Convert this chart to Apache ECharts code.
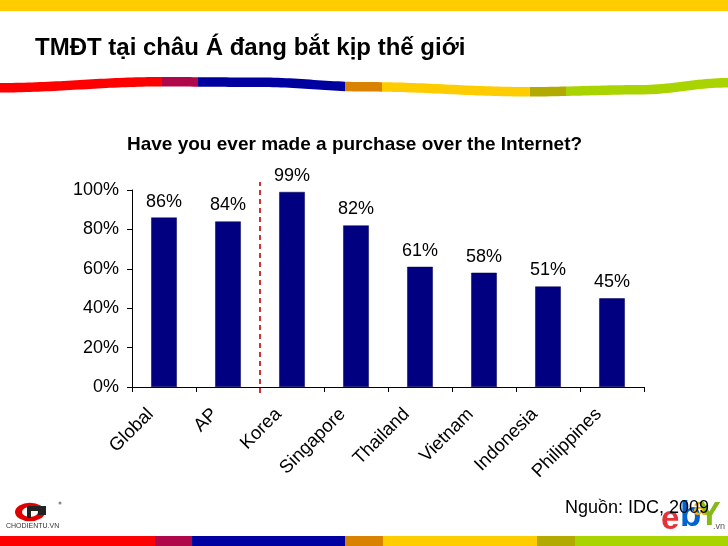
<!DOCTYPE html>
<html><head><meta charset="utf-8">
<script src="https://cdn.jsdelivr.net/npm/echarts@6/dist/echarts.min.js"></script>
<style>html,body{margin:0;padding:0;background:#fff}#c{width:728px;height:546px}</style>
</head><body><div id="c"></div>
<script>
const categories = ['Global','AP','Korea','Singapore','Thailand','Vietnam','Indonesia','Philippines'];
const values = [86, 84, 99, 82, 61, 58, 51, 45];
const yTicks = [0, 20, 40, 60, 80, 100];
const dividerAt = 2; // boundary between AP and Korea (category index units)
const dividerRange = [-3, 104];

const F = '"Liberation Sans", Arial, sans-serif';
const stripeColors = ['#FF0000','#B0064A','#0000A0','#D98200','#FFCC00','#B2AA00','#AAD400'];
const topBounds = [0,162,198,345,382,530,566,728];
const botBounds = [0,155,192,345,383,537,575,728];

function waveTop(x){
  const pts=[[0,83],[160,77],[260,77.5],[364,82],[530,87],[640,85],[728,78]];
  for(let i=0;i<pts.length-1;i++){
    const [x0,y0]=pts[i],[x1,y1]=pts[i+1];
    if(x>=x0&&x<=x1){const t=(x-x0)/(x1-x0);const s=(1-Math.cos(Math.PI*t))/2;return y0+(y1-y0)*s;}
  }
  return 80;
}
const graphics=[];
graphics.push({type:'rect',shape:{x:0,y:0,width:728,height:11},style:{fill:'#FFCC00'},silent:true});
for(let i=0;i<7;i++){
  const a=topBounds[i],b=topBounds[i+1];const pts=[];
  for(let x=a;x<=b;x+=4){pts.push([x,waveTop(x)]);}
  pts.push([b,waveTop(b)]);
  const th=9.5;
  for(let x=b;x>=a;x-=4){pts.push([x,waveTop(x)+th]);}
  pts.push([a,waveTop(a)+th]);
  graphics.push({type:'polygon',shape:{points:pts},style:{fill:stripeColors[i]},silent:true});
  graphics.push({type:'rect',shape:{x:botBounds[i],y:536,width:botBounds[i+1]-botBounds[i],height:10},style:{fill:stripeColors[i]},silent:true});
}
// chodientu logo (approximation)
graphics.push({type:'ring',shape:{cx:30,cy:512,r:15,r0:8},style:{fill:'#E00000'},scaleY:0.62,originY:512,silent:true});
graphics.push({type:'polygon',shape:{points:[[27,506],[46,506],[46,515],[38,515],[38,511],[31,511],[31,518],[27,518]]},style:{fill:'#222'},silent:true});
graphics.push({type:'circle',shape:{cx:60,cy:503,r:1.5},style:{fill:'#888'},silent:true});
graphics.push({type:'text',style:{text:'CHODIENTU.VN',x:6,y:523,font:'7px '+F,fill:'#333'},silent:true});
// ebay logo (approximation)
graphics.push({type:'text',style:{text:'e',x:661,y:503,font:'bold 33px '+F,fill:'#E53238'},silent:true});
graphics.push({type:'text',style:{text:'b',x:680,y:499,font:'bold 35px '+F,fill:'#0064D2'},silent:true});
graphics.push({type:'text',style:{text:'a',x:693,y:496,font:'bold 24px '+F,fill:'#F5AF02'},silent:true});
graphics.push({type:'text',style:{text:'Y',x:698,y:499,font:'bold 34px '+F,fill:'#86B817'},silent:true});
graphics.push({type:'text',style:{text:'.vn',x:713,y:522,font:'9px '+F,fill:'#555'},silent:true});

const chart = echarts.init(document.getElementById('c'));
chart.setOption({
  animation:false,
  backgroundColor:'#fff',
  title:[
    {text:'TMĐT tại châu Á đang bắt kịp thế giới',left:30,top:31,textStyle:{fontFamily:F,fontSize:24,fontWeight:'bold',color:'#000'}},
    {text:'Have you ever made a purchase over the Internet?',left:122,top:130,textStyle:{fontFamily:F,fontSize:19,fontWeight:'bold',color:'#000'}},
    {text:'Nguồn: IDC, 2009',right:14,top:494,textStyle:{fontFamily:F,fontSize:18,fontWeight:'normal',color:'#000'}}
  ],
  graphic:graphics,
  grid:{left:132,top:190,width:512,height:197,containLabel:false},
  xAxis:[
    {type:'category',data:categories,
     axisLine:{lineStyle:{color:'#000',width:1}},
     axisTick:{show:true,alignWithLabel:false,length:5,lineStyle:{color:'#000'}},
     axisLabel:{rotate:45,fontFamily:F,fontSize:18.5,color:'#000',margin:11,padding:[0,19,0,0],interval:0}},
    {type:'value',min:0,max:categories.length,show:false}
  ],
  yAxis:{type:'value',min:yTicks[0],max:yTicks[yTicks.length-1],interval:yTicks[1]-yTicks[0],
    axisLine:{show:true,lineStyle:{color:'#000'}},
    axisTick:{show:true,length:5,lineStyle:{color:'#000'}},
    splitLine:{show:false},
    axisLabel:{formatter:'{value}%',fontFamily:F,fontSize:18,color:'#000',margin:13}},
  series:[
    {type:'bar',data:values,barWidth:'40%',itemStyle:{color:'#000080',borderColor:'#000050',borderWidth:0.5},
     label:{show:true,position:'top',distance:7,formatter:'{c}%',fontFamily:F,fontSize:18,color:'#000'}},
    {type:'line',xAxisIndex:1,data:[[dividerAt,dividerRange[0]],[dividerAt,dividerRange[1]]],
     clip:false,symbol:'none',silent:true,
     lineStyle:{color:'#CC3333',width:2,type:[5,4]}}
  ]
});
</script></body></html>
